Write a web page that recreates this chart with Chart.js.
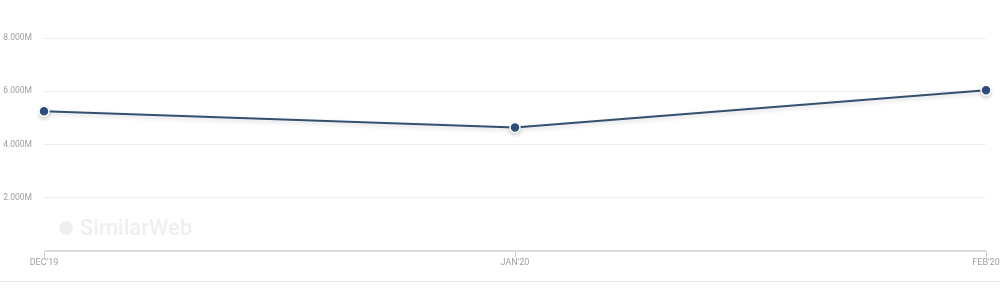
<!DOCTYPE html>
<html>
<head>
<meta charset="utf-8">
<script src="https://cdn.jsdelivr.net/npm/chart.js@4"></script>
<style>
  html, body { margin: 0; padding: 0; background: #fff; }
  #wrap { width: 1000px; height: 288px; position: relative; }
</style>
</head>
<body>
<div id="wrap"><canvas id="visitsChart"></canvas></div>
<script>
// Données
const months = ["DEC'19", "JAN'20", "FEB'20"];
const visits = [5245000, 4640000, 6040000];
const yTicks = [0, 2000000, 4000000, 6000000, 8000000];

// Filigrane + ligne du bas
const decorPlugin = {
    id: 'decor',
    beforeDatasetsDraw(chart) {
        const ctx = chart.ctx;
        ctx.save();
        ctx.fillStyle = '#efefef';
        ctx.beginPath();
        ctx.arc(66, 228, 7, 0, Math.PI * 2);
        ctx.fill();
        ctx.font = '500 22px Roboto, sans-serif';
        ctx.textBaseline = 'middle';
        ctx.fillText('SimilarWeb', 80, 229);
        ctx.restore();
    },
    afterDraw(chart) {
        const ctx = chart.ctx;
        ctx.save();
        ctx.strokeStyle = '#e6e6e6';
        ctx.lineWidth = 1;
        ctx.beginPath();
        ctx.moveTo(0, 281.5);
        ctx.lineTo(chart.width, 281.5);
        ctx.stroke();
        ctx.restore();
    }
};

const shadowPlugin = {
    id: 'lineShadow',
    beforeDatasetDraw(chart) {
        const ctx = chart.ctx;
        ctx.save();
        ctx.shadowColor = 'rgba(0,0,0,0.18)';
        ctx.shadowBlur = 4;
        ctx.shadowOffsetY = 2;
    },
    afterDatasetDraw(chart) {
        chart.ctx.restore();
    }
};

const ctx = document.getElementById('visitsChart').getContext('2d');
new Chart(ctx, {
    type: 'line',
    data: {
        labels: months,
        datasets: [{
            data: visits,
            borderColor: '#34506f',
            borderWidth: 2,
            pointBackgroundColor: '#2f5081',
            pointBorderColor: '#ffffff',
            pointBorderWidth: 1.5,
            pointRadius: 5,
            tension: 0,
            fill: false
        }]
    },
    options: {
        responsive: true,
        maintainAspectRatio: false,
        animation: false,
        layout: { padding: { top: 38, right: 14, left: 0, bottom: 0 } },
        plugins: {
            legend: { display: false },
            tooltip: { enabled: false }
        },
        scales: {
            x: {
                offset: false,
                afterFit(scale) { scale.height = 37; },
                grid: {
                    drawOnChartArea: false,
                    drawTicks: true,
                    tickLength: 6,
                    color: '#cccccc'
                },
                border: { display: false },
                ticks: {
                    color: '#a0a0a0',
                    font: { family: 'Roboto, sans-serif', size: 9 },
                    padding: 0,
                    maxRotation: 0
                }
            },
            y: {
                min: 0,
                max: 8000000,
                afterFit(scale) { scale.width = 44; },
                afterBuildTicks(scale) {
                    scale.ticks = yTicks.map(v => ({ value: v }));
                },
                grid: {
                    drawTicks: false,
                    color: ctx => ctx.tick.value === 0 ? '#dddddd' : '#eeeeee',
                    lineWidth: ctx => ctx.tick.value === 0 ? 2 : 1
                },
                border: { display: false },
                ticks: {
                    color: '#a0a0a0',
                    font: { family: 'Roboto, sans-serif', size: 8.5 },
                    padding: 12,
                    callback: v => v === 0 ? '' : (v / 1000000).toFixed(3) + 'M'
                }
            }
        }
    },
    plugins: [decorPlugin, shadowPlugin]
});
</script>
</body>
</html>
